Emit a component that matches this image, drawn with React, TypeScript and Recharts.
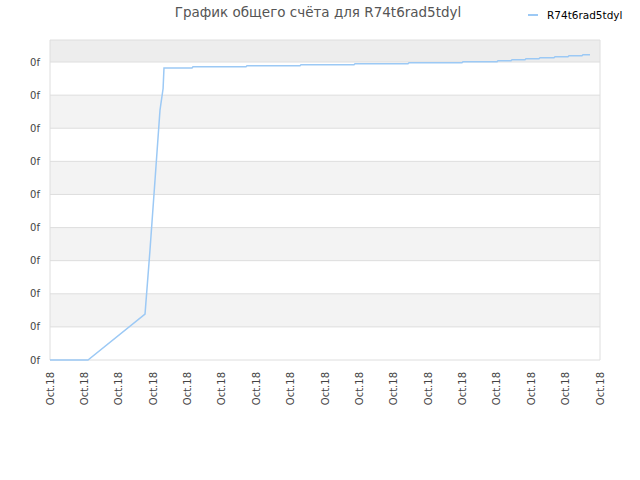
import React from "react";
import { LineChart, Line, XAxis, YAxis, CartesianGrid } from "recharts";

const chartTitle = "График общего счёта для R74t6rad5tdyl";
const seriesName = "R74t6rad5tdyl";

// x positions in tick units (0 .. 16), one tick per date label
const dateLabels = [
  "Oct.18", "Oct.18", "Oct.18", "Oct.18", "Oct.18", "Oct.18", "Oct.18", "Oct.18", "Oct.18",
  "Oct.18", "Oct.18", "Oct.18", "Oct.18", "Oct.18", "Oct.18", "Oct.18", "Oct.18",
];

const timePos = [
  0, 1.105, 2.764, 2.909, 3.055, 3.2, 3.29, 3.316, 4.131, 4.16, 5.702, 5.731, 7.273, 7.302,
  8.844, 8.873, 10.415, 10.444, 11.985, 12.015, 13.004, 13.033, 13.411, 13.44, 13.818, 13.847,
  14.225, 14.255, 14.662, 14.691, 15.069, 15.098, 15.476, 15.505, 15.709,
];

const scoreValues = [
  0, 0, 1.389, 3.322, 5.436, 7.55, 8.2, 8.819, 8.819, 8.858, 8.858, 8.888, 8.888, 8.918,
  8.918, 8.949, 8.949, 8.979, 8.979, 9.009, 9.009, 9.039, 9.039, 9.069, 9.069, 9.1, 9.1, 9.13,
  9.13, 9.16, 9.16, 9.19, 9.19, 9.22, 9.22,
];

const yTicks = [0, 1, 2, 3, 4, 5, 6, 7, 8, 9, 9.665];
const yTickLabel = "0f";
const yMax = 9.665;

const data = timePos.map((t, i) => ({ t, score: scoreValues[i] }));

const stripeFills = [
  "#ededed", "#ffffff", "#f3f3f3", "#ffffff", "#f3f3f3",
  "#ffffff", "#f3f3f3", "#ffffff", "#f3f3f3", "#ffffff", "#ffffff",
];

function DateTick({ x, y, payload }: any) {
  return (
    <text
      x={x}
      y={y}
      transform={`rotate(-90, ${x}, ${y})`}
      textAnchor="end"
      dy="0.35em"
      fontSize={10}
      fill="#444"
    >
      {dateLabels[payload.value]}
    </text>
  );
}

export default function App() {
  return (
    <div
      style={{
        position: "absolute",
        left: 0,
        top: 0,
        width: 640,
        height: 480,
        background: "#fff",
        fontFamily: "'DejaVu Sans', sans-serif",
      }}
    >
      <div
        style={{
          position: "absolute",
          left: 0,
          top: 4,
          width: 636,
          textAlign: "center",
          fontSize: 13.5,
          color: "#555",
        }}
      >
        {chartTitle}
      </div>
      <div
        style={{
          position: "absolute",
          left: 528,
          top: 9,
          fontSize: 10.5,
          color: "#000",
          display: "flex",
          alignItems: "center",
        }}
      >
        <span
          style={{
            display: "inline-block",
            width: 10,
            height: 2,
            background: "#9cc9f5",
            marginRight: 9,
          }}
        />
        {seriesName}
      </div>
      <LineChart
        width={640}
        height={480}
        data={data}
        margin={{ top: 40, right: 40, bottom: 0, left: 0 }}
      >
        <CartesianGrid
          stroke="#dedede"
          horizontalFill={stripeFills}
          verticalCoordinatesGenerator={({ offset }: any) => [
            offset.left,
            offset.left + offset.width,
          ]}
        />
        <XAxis
          type="number"
          dataKey="t"
          domain={[0, 16]}
          ticks={dateLabels.map((_, i) => i)}
          interval={0}
          height={120}
          tickLine={false}
          axisLine={false}
          tickMargin={6}
          tick={<DateTick />}
        />
        <YAxis
          type="number"
          domain={[0, yMax]}
          ticks={yTicks}
          interval={0}
          width={50}
          tickLine={false}
          axisLine={false}
          tickMargin={4}
          tick={{ fontSize: 10, fill: "#444" }}
          tickFormatter={(v: number) => (v >= yMax ? "" : yTickLabel)}
        />
        <Line
          type="linear"
          dataKey="score"
          stroke="#9cc9f5"
          strokeWidth={1.5}
          dot={false}
          isAnimationActive={false}
        />
      </LineChart>
    </div>
  );
}
